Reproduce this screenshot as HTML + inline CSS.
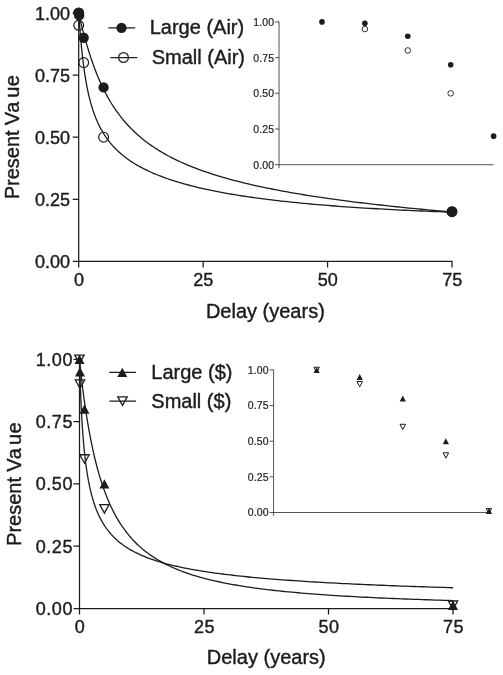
<!DOCTYPE html>
<html><head><meta charset="utf-8"><title>Present value by delay</title>
<style>
html,body{margin:0;padding:0;background:#fff}
svg{display:block;will-change:transform}
text{font-family:"Liberation Sans",Arial,sans-serif;fill:#1c1c1c;stroke:#1c1c1c;stroke-width:0.4px}
.t18{font-size:18px}
.t20{font-size:20px}
.t11{font-size:10.5px;letter-spacing:0.15px;stroke-width:0.2px}
</style></head><body>
<svg width="503" height="675" viewBox="0 0 503 675">
<rect width="503" height="675" fill="#fff"/>
<text x="70.00" y="268.20" text-anchor="end" class="t18" letter-spacing="0">0.00</text>
<text x="70.00" y="206.07" text-anchor="end" class="t18" letter-spacing="0">0.25</text>
<text x="70.00" y="143.95" text-anchor="end" class="t18" letter-spacing="0">0.50</text>
<text x="70.00" y="81.83" text-anchor="end" class="t18" letter-spacing="0">0.75</text>
<text x="70.00" y="19.70" text-anchor="end" class="t18" letter-spacing="0">1.00</text>
<text x="78.90" y="286.20" text-anchor="middle" class="t18" letter-spacing="0">0</text>
<text x="203.33" y="286.20" text-anchor="middle" class="t18" letter-spacing="0">25</text>
<text x="327.77" y="286.20" text-anchor="middle" class="t18" letter-spacing="0">50</text>
<text x="452.20" y="286.20" text-anchor="middle" class="t18" letter-spacing="0">75</text>
<text x="265.35" y="317.60" text-anchor="middle" class="t20">Delay (years)</text>
<text transform="translate(19.0,137.15) rotate(-90)" class="t20"><tspan x="-62.13">Present</tspan><tspan x="11.84" letter-spacing="0.6">Va</tspan><tspan x="39.38" letter-spacing="0.5">ue</tspan></text>
<circle cx="78.70" cy="12.90" r="4.9" fill="#fff" stroke="#1c1c1c" stroke-width="1.2"/>
<circle cx="78.70" cy="25.33" r="4.9" fill="#fff" stroke="#1c1c1c" stroke-width="1.2"/>
<circle cx="83.68" cy="62.60" r="4.9" fill="#fff" stroke="#1c1c1c" stroke-width="1.2"/>
<circle cx="103.59" cy="137.15" r="4.9" fill="#fff" stroke="#1c1c1c" stroke-width="1.2"/>
<circle cx="452.00" cy="211.70" r="4.9" fill="#fff" stroke="#1c1c1c" stroke-width="1.2"/>
<circle cx="78.70" cy="12.90" r="5.15" fill="#1c1c1c"/>
<circle cx="79.20" cy="15.39" r="5.15" fill="#1c1c1c"/>
<circle cx="83.68" cy="37.75" r="5.15" fill="#1c1c1c"/>
<circle cx="103.59" cy="87.45" r="5.15" fill="#1c1c1c"/>
<circle cx="452.00" cy="211.70" r="5.15" fill="#1c1c1c"/>
<path d="M78.70,12.90 L78.70,12.91 L78.71,12.93 L78.72,12.99 L78.73,13.07 L78.75,13.19 L78.78,13.35 L78.82,13.55 L78.86,13.79 L78.92,14.07 L78.98,14.39 L79.05,14.76 L79.14,15.17 L79.23,15.63 L79.33,16.12 L79.45,16.66 L79.57,17.24 L79.71,17.86 L79.85,18.52 L80.01,19.22 L80.19,19.96 L80.37,20.75 L80.57,21.57 L80.78,22.43 L81.00,23.34 L81.24,24.29 L81.49,25.28 L81.75,26.32 L82.03,27.40 L82.33,28.52 L82.63,29.69 L82.95,30.90 L83.29,32.16 L83.64,33.46 L84.01,34.81 L84.39,36.21 L84.79,37.64 L85.21,39.12 L85.64,40.64 L86.08,42.19 L86.54,43.79 L87.02,45.42 L87.52,47.08 L88.03,48.78 L88.56,50.51 L89.11,52.26 L89.67,54.04 L90.25,55.84 L90.85,57.67 L91.47,59.51 L92.10,61.37 L92.75,63.24 L93.42,65.12 L94.11,67.02 L94.82,68.92 L95.54,70.83 L96.29,72.74 L97.05,74.65 L97.83,76.56 L98.64,78.47 L99.46,80.38 L100.30,82.28 L101.16,84.18 L102.03,86.06 L102.93,87.94 L103.85,89.81 L104.79,91.66 L105.75,93.51 L106.73,95.34 L107.73,97.15 L108.75,98.95 L109.79,100.74 L110.85,102.50 L111.93,104.25 L113.04,105.99 L114.16,107.70 L115.30,109.39 L116.47,111.07 L117.66,112.73 L118.87,114.37 L120.10,115.98 L121.35,117.58 L122.63,119.16 L123.92,120.72 L125.24,122.25 L126.58,123.77 L127.95,125.27 L129.33,126.75 L130.74,128.20 L132.17,129.64 L133.62,131.06 L135.10,132.45 L136.60,133.83 L138.12,135.19 L139.67,136.53 L141.23,137.85 L142.83,139.15 L144.44,140.43 L146.08,141.69 L147.74,142.94 L149.43,144.16 L151.14,145.37 L152.87,146.56 L154.63,147.74 L156.41,148.89 L158.21,150.03 L160.04,151.16 L161.90,152.26 L163.78,153.35 L165.68,154.43 L167.61,155.49 L169.56,156.53 L171.53,157.56 L173.54,158.57 L175.56,159.57 L177.61,160.56 L179.69,161.53 L181.79,162.49 L183.92,163.43 L186.07,164.36 L188.25,165.28 L190.46,166.18 L192.69,167.07 L194.94,167.95 L197.22,168.82 L199.53,169.67 L201.86,170.52 L204.22,171.35 L206.61,172.17 L209.02,172.98 L211.45,173.78 L213.92,174.57 L216.41,175.35 L218.93,176.11 L221.47,176.87 L224.04,177.62 L226.64,178.36 L229.26,179.09 L231.91,179.81 L234.59,180.52 L237.30,181.22 L240.03,181.91 L242.79,182.60 L245.58,183.27 L248.39,183.94 L251.23,184.60 L254.10,185.26 L257.00,185.90 L259.92,186.54 L262.88,187.17 L265.86,187.79 L268.87,188.40 L271.90,189.01 L274.97,189.61 L278.06,190.21 L281.18,190.80 L284.33,191.38 L287.51,191.95 L290.71,192.52 L293.95,193.08 L297.21,193.64 L300.50,194.19 L303.82,194.74 L307.17,195.27 L310.55,195.81 L313.96,196.34 L317.40,196.86 L320.86,197.38 L324.36,197.89 L327.88,198.40 L331.43,198.90 L335.02,199.40 L338.63,199.89 L342.27,200.38 L345.94,200.86 L349.64,201.34 L353.37,201.82 L357.13,202.29 L360.92,202.75 L364.74,203.21 L368.59,203.67 L372.47,204.13 L376.39,204.58 L380.33,205.02 L384.30,205.46 L388.30,205.90 L392.33,206.33 L396.39,206.76 L400.48,207.19 L404.61,207.61 L408.76,208.03 L412.95,208.45 L417.16,208.86 L421.41,209.27 L425.68,209.68 L429.99,210.08 L434.33,210.48 L438.70,210.88 L443.10,211.27 L447.54,211.66 L452.00,212.05" fill="none" stroke="#1c1c1c" stroke-width="1.3" stroke-linejoin="round"/>
<path d="M78.70,12.90 L78.70,12.92 L78.71,12.98 L78.72,13.12 L78.73,13.35 L78.75,13.66 L78.78,14.08 L78.82,14.60 L78.86,15.24 L78.92,16.00 L78.98,16.88 L79.05,17.89 L79.14,19.02 L79.23,20.29 L79.33,21.68 L79.45,23.21 L79.57,24.86 L79.71,26.63 L79.85,28.52 L80.01,30.53 L80.19,32.64 L80.37,34.85 L80.57,37.15 L80.78,39.54 L81.00,42.00 L81.24,44.52 L81.49,47.10 L81.75,49.73 L82.03,52.40 L82.33,55.09 L82.63,57.80 L82.95,60.52 L83.29,63.25 L83.64,65.97 L84.01,68.69 L84.39,71.39 L84.79,74.06 L85.21,76.71 L85.64,79.33 L86.08,81.92 L86.54,84.47 L87.02,86.98 L87.52,89.45 L88.03,91.87 L88.56,94.26 L89.11,96.59 L89.67,98.88 L90.25,101.12 L90.85,103.31 L91.47,105.46 L92.10,107.56 L92.75,109.62 L93.42,111.63 L94.11,113.59 L94.82,115.51 L95.54,117.39 L96.29,119.22 L97.05,121.01 L97.83,122.76 L98.64,124.47 L99.46,126.15 L100.30,127.78 L101.16,129.38 L102.03,130.94 L102.93,132.47 L103.85,133.97 L104.79,135.43 L105.75,136.87 L106.73,138.27 L107.73,139.64 L108.75,140.98 L109.79,142.30 L110.85,143.59 L111.93,144.85 L113.04,146.09 L114.16,147.30 L115.30,148.49 L116.47,149.66 L117.66,150.81 L118.87,151.93 L120.10,153.03 L121.35,154.11 L122.63,155.18 L123.92,156.22 L125.24,157.25 L126.58,158.25 L127.95,159.24 L129.33,160.21 L130.74,161.17 L132.17,162.11 L133.62,163.03 L135.10,163.94 L136.60,164.84 L138.12,165.72 L139.67,166.58 L141.23,167.43 L142.83,168.27 L144.44,169.09 L146.08,169.91 L147.74,170.71 L149.43,171.49 L151.14,172.27 L152.87,173.03 L154.63,173.78 L156.41,174.52 L158.21,175.25 L160.04,175.97 L161.90,176.68 L163.78,177.37 L165.68,178.06 L167.61,178.74 L169.56,179.41 L171.53,180.06 L173.54,180.71 L175.56,181.35 L177.61,181.98 L179.69,182.60 L181.79,183.21 L183.92,183.82 L186.07,184.41 L188.25,185.00 L190.46,185.58 L192.69,186.15 L194.94,186.71 L197.22,187.26 L199.53,187.81 L201.86,188.35 L204.22,188.88 L206.61,189.40 L209.02,189.92 L211.45,190.42 L213.92,190.93 L216.41,191.42 L218.93,191.91 L221.47,192.39 L224.04,192.86 L226.64,193.33 L229.26,193.79 L231.91,194.24 L234.59,194.69 L237.30,195.13 L240.03,195.57 L242.79,196.00 L245.58,196.42 L248.39,196.83 L251.23,197.24 L254.10,197.65 L257.00,198.05 L259.92,198.44 L262.88,198.83 L265.86,199.21 L268.87,199.58 L271.90,199.95 L274.97,200.32 L278.06,200.68 L281.18,201.03 L284.33,201.38 L287.51,201.72 L290.71,202.06 L293.95,202.40 L297.21,202.72 L300.50,203.05 L303.82,203.36 L307.17,203.68 L310.55,203.99 L313.96,204.29 L317.40,204.59 L320.86,204.88 L324.36,205.17 L327.88,205.45 L331.43,205.73 L335.02,206.01 L338.63,206.28 L342.27,206.55 L345.94,206.81 L349.64,207.07 L353.37,207.32 L357.13,207.57 L360.92,207.81 L364.74,208.05 L368.59,208.29 L372.47,208.52 L376.39,208.75 L380.33,208.97 L384.30,209.19 L388.30,209.41 L392.33,209.62 L396.39,209.83 L400.48,210.03 L404.61,210.24 L408.76,210.43 L412.95,210.62 L417.16,210.81 L421.41,211.00 L425.68,211.18 L429.99,211.36 L434.33,211.53 L438.70,211.70 L443.10,211.87 L447.54,212.03 L452.00,212.19" fill="none" stroke="#1c1c1c" stroke-width="1.3" stroke-linejoin="round"/>
<path d="M78.70,12.30 V267.40 M72.70,261.40 H452.00 V267.40 M72.70,199.27 H78.70 M72.70,137.15 H78.70 M72.70,75.03 H78.70 M72.70,12.90 H78.70 M203.13,261.40 V267.40 M327.57,261.40 V267.40 " fill="none" stroke="#1c1c1c" stroke-width="1.25"/>
<circle cx="121.5" cy="27.9" r="5.15" fill="#1c1c1c"/>
<circle cx="123.5" cy="57.5" r="4.9" fill="#fff" stroke="#1c1c1c" stroke-width="1.2"/>
<path d="M108.4,27.9 H135.2 M110.4,57.5 H137.2" stroke="#1c1c1c" stroke-width="1.25" fill="none"/>
<text x="149.7" y="34.1" class="t20">Large (Air)</text>
<text x="151.7" y="63.8" class="t20">Small (Air)</text>
<path d="M279.05,21.50 V168.20 M275.05,164.70 H493.60 M275.05,129.00 H279.05 M275.05,93.30 H279.05 M275.05,57.60 H279.05 M275.05,21.90 H279.05 " fill="none" stroke="#2a2a2a" stroke-width="0.8"/>
<text x="274.25" y="168.60" text-anchor="end" class="t11">0.00</text>
<text x="274.25" y="132.90" text-anchor="end" class="t11">0.25</text>
<text x="274.25" y="97.20" text-anchor="end" class="t11">0.50</text>
<text x="274.25" y="61.50" text-anchor="end" class="t11">0.75</text>
<text x="274.25" y="25.80" text-anchor="end" class="t11">1.00</text>
<circle cx="321.96" cy="21.90" r="2.8" fill="#1c1c1c"/>
<circle cx="364.87" cy="23.33" r="2.8" fill="#1c1c1c"/>
<circle cx="407.78" cy="36.18" r="2.8" fill="#1c1c1c"/>
<circle cx="450.69" cy="64.74" r="2.8" fill="#1c1c1c"/>
<circle cx="493.60" cy="136.14" r="2.8" fill="#1c1c1c"/>
<circle cx="364.87" cy="29.04" r="2.8" fill="#fff" stroke="#1c1c1c" stroke-width="0.9"/>
<circle cx="407.78" cy="50.46" r="2.8" fill="#fff" stroke="#1c1c1c" stroke-width="0.9"/>
<circle cx="450.69" cy="93.30" r="2.8" fill="#fff" stroke="#1c1c1c" stroke-width="0.9"/>
<text x="73.10" y="614.90" text-anchor="end" class="t18" letter-spacing="0.6">0.00</text>
<text x="73.10" y="552.60" text-anchor="end" class="t18" letter-spacing="0.6">0.25</text>
<text x="73.10" y="490.30" text-anchor="end" class="t18" letter-spacing="0.6">0.50</text>
<text x="73.10" y="428.00" text-anchor="end" class="t18" letter-spacing="0.6">0.75</text>
<text x="73.10" y="365.70" text-anchor="end" class="t18" letter-spacing="0.6">1.00</text>
<text x="80.00" y="632.50" text-anchor="middle" class="t18" letter-spacing="0.6">0</text>
<text x="204.50" y="632.50" text-anchor="middle" class="t18" letter-spacing="0.6">25</text>
<text x="329.00" y="632.50" text-anchor="middle" class="t18" letter-spacing="0.6">50</text>
<text x="453.50" y="632.50" text-anchor="middle" class="t18" letter-spacing="0.6">75</text>
<text x="266.25" y="664.10" text-anchor="middle" class="t20">Delay (years)</text>
<text transform="translate(21.1,483.90) rotate(-90)" class="t20"><tspan x="-62.03">Present</tspan><tspan x="12.14" letter-spacing="0.6">Va</tspan><tspan x="38.88" letter-spacing="0.5">ue</tspan></text>
<path d="M79.50,363.55 L84.20,355.05 L74.80,355.05 Z" fill="#fff" stroke="#1c1c1c" stroke-width="1.3" stroke-linejoin="miter"/>
<path d="M80.00,388.47 L84.70,379.97 L75.30,379.97 Z" fill="#fff" stroke="#1c1c1c" stroke-width="1.3" stroke-linejoin="miter"/>
<path d="M84.48,463.23 L89.18,454.73 L79.78,454.73 Z" fill="#fff" stroke="#1c1c1c" stroke-width="1.3" stroke-linejoin="miter"/>
<path d="M104.40,513.07 L109.10,504.57 L99.70,504.57 Z" fill="#fff" stroke="#1c1c1c" stroke-width="1.3" stroke-linejoin="miter"/>
<path d="M453.00,609.51 L457.70,601.01 L448.30,601.01 Z" fill="#fff" stroke="#1c1c1c" stroke-width="1.3" stroke-linejoin="miter"/>
<path d="M79.50,354.60 L84.50,364.00 L74.50,364.00 Z" fill="#1c1c1c"/>
<path d="M80.00,367.06 L85.00,376.46 L75.00,376.46 Z" fill="#1c1c1c"/>
<path d="M84.48,404.44 L89.48,413.84 L79.48,413.84 Z" fill="#1c1c1c"/>
<path d="M104.40,479.20 L109.40,488.60 L99.40,488.60 Z" fill="#1c1c1c"/>
<path d="M453.00,600.56 L458.00,609.96 L448.00,609.96 Z" fill="#1c1c1c"/>
<path d="M79.50,359.30 L79.50,359.31 L79.51,359.37 L79.52,359.47 L79.53,359.64 L79.55,359.88 L79.58,360.20 L79.62,360.60 L79.66,361.09 L79.72,361.66 L79.78,362.32 L79.85,363.08 L79.94,363.93 L80.03,364.87 L80.13,365.90 L80.25,367.02 L80.37,368.24 L80.51,369.55 L80.65,370.95 L80.81,372.43 L80.99,374.01 L81.17,375.67 L81.37,377.41 L81.58,379.23 L81.80,381.14 L82.04,383.13 L82.29,385.19 L82.56,387.32 L82.83,389.53 L83.13,391.81 L83.43,394.16 L83.76,396.57 L84.09,399.04 L84.45,401.57 L84.81,404.16 L85.20,406.80 L85.59,409.48 L86.01,412.21 L86.44,414.98 L86.89,417.79 L87.35,420.62 L87.83,423.49 L88.32,426.38 L88.84,429.29 L89.37,432.22 L89.91,435.15 L90.48,438.10 L91.06,441.05 L91.66,444.00 L92.27,446.95 L92.91,449.89 L93.56,452.82 L94.23,455.73 L94.92,458.63 L95.63,461.52 L96.35,464.38 L97.10,467.21 L97.86,470.02 L98.64,472.81 L99.45,475.56 L100.27,478.28 L101.11,480.97 L101.97,483.62 L102.85,486.23 L103.75,488.81 L104.67,491.35 L105.61,493.85 L106.56,496.31 L107.54,498.73 L108.54,501.10 L109.56,503.44 L110.61,505.73 L111.67,507.99 L112.75,510.20 L113.85,512.36 L114.98,514.49 L116.12,516.57 L117.29,518.61 L118.48,520.61 L119.69,522.57 L120.92,524.48 L122.18,526.36 L123.45,528.19 L124.75,529.99 L126.07,531.74 L127.41,533.46 L128.77,535.14 L130.16,536.78 L131.57,538.39 L133.00,539.95 L134.45,541.48 L135.93,542.98 L137.43,544.44 L138.95,545.87 L140.50,547.26 L142.07,548.62 L143.66,549.95 L145.28,551.25 L146.92,552.52 L148.58,553.75 L150.27,554.96 L151.98,556.14 L153.71,557.29 L155.47,558.41 L157.25,559.50 L159.06,560.57 L160.89,561.62 L162.74,562.64 L164.62,563.63 L166.52,564.60 L168.45,565.54 L170.41,566.47 L172.38,567.37 L174.39,568.25 L176.41,569.11 L178.47,569.94 L180.55,570.76 L182.65,571.56 L184.78,572.34 L186.93,573.10 L189.11,573.84 L191.32,574.56 L193.55,575.27 L195.80,575.96 L198.09,576.63 L200.39,577.29 L202.73,577.93 L205.09,578.55 L207.47,579.16 L209.89,579.76 L212.33,580.34 L214.79,580.91 L217.28,581.47 L219.80,582.01 L222.35,582.54 L224.92,583.06 L227.52,583.56 L230.14,584.06 L232.80,584.54 L235.47,585.01 L238.18,585.47 L240.92,585.92 L243.68,586.36 L246.46,586.79 L249.28,587.21 L252.12,587.62 L255.00,588.02 L257.89,588.41 L260.82,588.79 L263.77,589.16 L266.76,589.53 L269.77,589.89 L272.81,590.23 L275.87,590.58 L278.97,590.91 L282.09,591.24 L285.24,591.56 L288.42,591.87 L291.63,592.17 L294.86,592.47 L298.13,592.76 L301.42,593.05 L304.74,593.33 L308.10,593.60 L311.48,593.87 L314.89,594.13 L318.32,594.39 L321.79,594.64 L325.29,594.89 L328.81,595.13 L332.37,595.36 L335.95,595.59 L339.57,595.82 L343.21,596.04 L346.88,596.25 L350.59,596.46 L354.32,596.67 L358.08,596.87 L361.88,597.07 L365.70,597.27 L369.55,597.46 L373.43,597.65 L377.34,597.83 L381.29,598.01 L385.26,598.18 L389.26,598.36 L393.30,598.52 L397.36,598.69 L401.46,598.85 L405.58,599.01 L409.74,599.17 L413.92,599.32 L418.14,599.47 L422.39,599.62 L426.67,599.76 L430.98,599.90 L435.32,600.04 L439.69,600.17 L444.10,600.31 L448.53,600.44 L453.00,600.57" fill="none" stroke="#1c1c1c" stroke-width="1.3" stroke-linejoin="round"/>
<path d="M79.50,359.30 L79.50,359.34 L79.51,359.52 L79.52,359.89 L79.53,360.47 L79.55,361.29 L79.58,362.37 L79.62,363.70 L79.66,365.31 L79.72,367.18 L79.78,369.32 L79.85,371.72 L79.94,374.36 L80.03,377.22 L80.13,380.30 L80.25,383.57 L80.37,387.00 L80.51,390.58 L80.65,394.29 L80.81,398.09 L80.99,401.98 L81.17,405.92 L81.37,409.90 L81.58,413.90 L81.80,417.90 L82.04,421.88 L82.29,425.84 L82.56,429.77 L82.83,433.64 L83.13,437.46 L83.43,441.21 L83.76,444.89 L84.09,448.50 L84.45,452.03 L84.81,455.47 L85.20,458.84 L85.59,462.11 L86.01,465.31 L86.44,468.42 L86.89,471.44 L87.35,474.38 L87.83,477.24 L88.32,480.01 L88.84,482.71 L89.37,485.33 L89.91,487.87 L90.48,490.34 L91.06,492.74 L91.66,495.07 L92.27,497.33 L92.91,499.52 L93.56,501.65 L94.23,503.72 L94.92,505.73 L95.63,507.68 L96.35,509.58 L97.10,511.42 L97.86,513.21 L98.64,514.95 L99.45,516.64 L100.27,518.28 L101.11,519.88 L101.97,521.43 L102.85,522.95 L103.75,524.42 L104.67,525.85 L105.61,527.24 L106.56,528.60 L107.54,529.92 L108.54,531.21 L109.56,532.46 L110.61,533.68 L111.67,534.87 L112.75,536.03 L113.85,537.16 L114.98,538.26 L116.12,539.34 L117.29,540.39 L118.48,541.41 L119.69,542.41 L120.92,543.38 L122.18,544.33 L123.45,545.26 L124.75,546.16 L126.07,547.05 L127.41,547.91 L128.77,548.76 L130.16,549.58 L131.57,550.39 L133.00,551.18 L134.45,551.95 L135.93,552.70 L137.43,553.44 L138.95,554.16 L140.50,554.86 L142.07,555.55 L143.66,556.22 L145.28,556.88 L146.92,557.53 L148.58,558.16 L150.27,558.78 L151.98,559.39 L153.71,559.98 L155.47,560.56 L157.25,561.13 L159.06,561.69 L160.89,562.24 L162.74,562.78 L164.62,563.30 L166.52,563.82 L168.45,564.32 L170.41,564.82 L172.38,565.30 L174.39,565.78 L176.41,566.25 L178.47,566.71 L180.55,567.16 L182.65,567.60 L184.78,568.03 L186.93,568.46 L189.11,568.88 L191.32,569.29 L193.55,569.69 L195.80,570.09 L198.09,570.48 L200.39,570.86 L202.73,571.23 L205.09,571.60 L207.47,571.96 L209.89,572.32 L212.33,572.67 L214.79,573.02 L217.28,573.35 L219.80,573.69 L222.35,574.01 L224.92,574.34 L227.52,574.65 L230.14,574.96 L232.80,575.27 L235.47,575.57 L238.18,575.87 L240.92,576.16 L243.68,576.45 L246.46,576.73 L249.28,577.01 L252.12,577.28 L255.00,577.55 L257.89,577.82 L260.82,578.08 L263.77,578.34 L266.76,578.59 L269.77,578.84 L272.81,579.09 L275.87,579.33 L278.97,579.57 L282.09,579.81 L285.24,580.04 L288.42,580.27 L291.63,580.49 L294.86,580.72 L298.13,580.94 L301.42,581.15 L304.74,581.37 L308.10,581.58 L311.48,581.78 L314.89,581.99 L318.32,582.19 L321.79,582.39 L325.29,582.59 L328.81,582.78 L332.37,582.97 L335.95,583.16 L339.57,583.35 L343.21,583.53 L346.88,583.71 L350.59,583.89 L354.32,584.07 L358.08,584.24 L361.88,584.42 L365.70,584.59 L369.55,584.76 L373.43,584.92 L377.34,585.09 L381.29,585.25 L385.26,585.41 L389.26,585.57 L393.30,585.73 L397.36,585.88 L401.46,586.03 L405.58,586.18 L409.74,586.33 L413.92,586.48 L418.14,586.63 L422.39,586.77 L426.67,586.91 L430.98,587.06 L435.32,587.19 L439.69,587.33 L444.10,587.47 L448.53,587.60 L453.00,587.74" fill="none" stroke="#1c1c1c" stroke-width="1.3" stroke-linejoin="round"/>
<path d="M79.50,358.70 V614.50 M73.50,608.50 H453.00 V614.50 M73.50,546.20 H79.50 M73.50,483.90 H79.50 M73.50,421.60 H79.50 M73.50,359.30 H79.50 M204.00,608.50 V614.50 M328.50,608.50 V614.50 " fill="none" stroke="#1c1c1c" stroke-width="1.25"/>
<path d="M122.30,367.70 L127.30,377.10 L117.30,377.10 Z" fill="#1c1c1c"/>
<path d="M122.50,405.35 L127.20,396.85 L117.80,396.85 Z" fill="#fff" stroke="#1c1c1c" stroke-width="1.3"/>
<path d="M109.3,372.4 H135.9 M109.5,401.1 H136.1" stroke="#1c1c1c" stroke-width="1.25" fill="none"/>
<text x="151.3" y="378.8" class="t20">Large ($)</text>
<text x="151.3" y="407.5" class="t20">Small ($)</text>
<path d="M273.60,369.50 V516.00 M269.60,512.50 H488.90 M269.60,476.85 H273.60 M269.60,441.20 H273.60 M269.60,405.55 H273.60 M269.60,369.90 H273.60 " fill="none" stroke="#2a2a2a" stroke-width="0.8"/>
<text x="268.80" y="516.40" text-anchor="end" class="t11">0.00</text>
<text x="268.80" y="480.75" text-anchor="end" class="t11">0.25</text>
<text x="268.80" y="445.10" text-anchor="end" class="t11">0.50</text>
<text x="268.80" y="409.45" text-anchor="end" class="t11">0.75</text>
<text x="268.80" y="373.80" text-anchor="end" class="t11">1.00</text>
<path d="M316.66,372.55 L319.41,367.25 L313.91,367.25 Z" fill="#fff" stroke="#1c1c1c" stroke-width="1.0"/>
<path d="M359.72,386.81 L362.47,381.51 L356.97,381.51 Z" fill="#fff" stroke="#1c1c1c" stroke-width="1.0"/>
<path d="M402.78,429.59 L405.53,424.29 L400.03,424.29 Z" fill="#fff" stroke="#1c1c1c" stroke-width="1.0"/>
<path d="M445.84,458.11 L448.59,452.81 L443.09,452.81 Z" fill="#fff" stroke="#1c1c1c" stroke-width="1.0"/>
<path d="M488.90,513.72 L491.65,508.42 L486.15,508.42 Z" fill="#fff" stroke="#1c1c1c" stroke-width="1.0"/>
<path d="M316.66,366.90 L319.76,372.90 L313.56,372.90 Z" fill="#1c1c1c"/>
<path d="M359.72,374.03 L362.82,380.03 L356.62,380.03 Z" fill="#1c1c1c"/>
<path d="M402.78,395.42 L405.88,401.42 L399.68,401.42 Z" fill="#1c1c1c"/>
<path d="M445.84,438.20 L448.94,444.20 L442.74,444.20 Z" fill="#1c1c1c"/>
<path d="M488.90,508.07 L492.00,514.07 L485.80,514.07 Z" fill="#1c1c1c"/>
</svg>
</body></html>
